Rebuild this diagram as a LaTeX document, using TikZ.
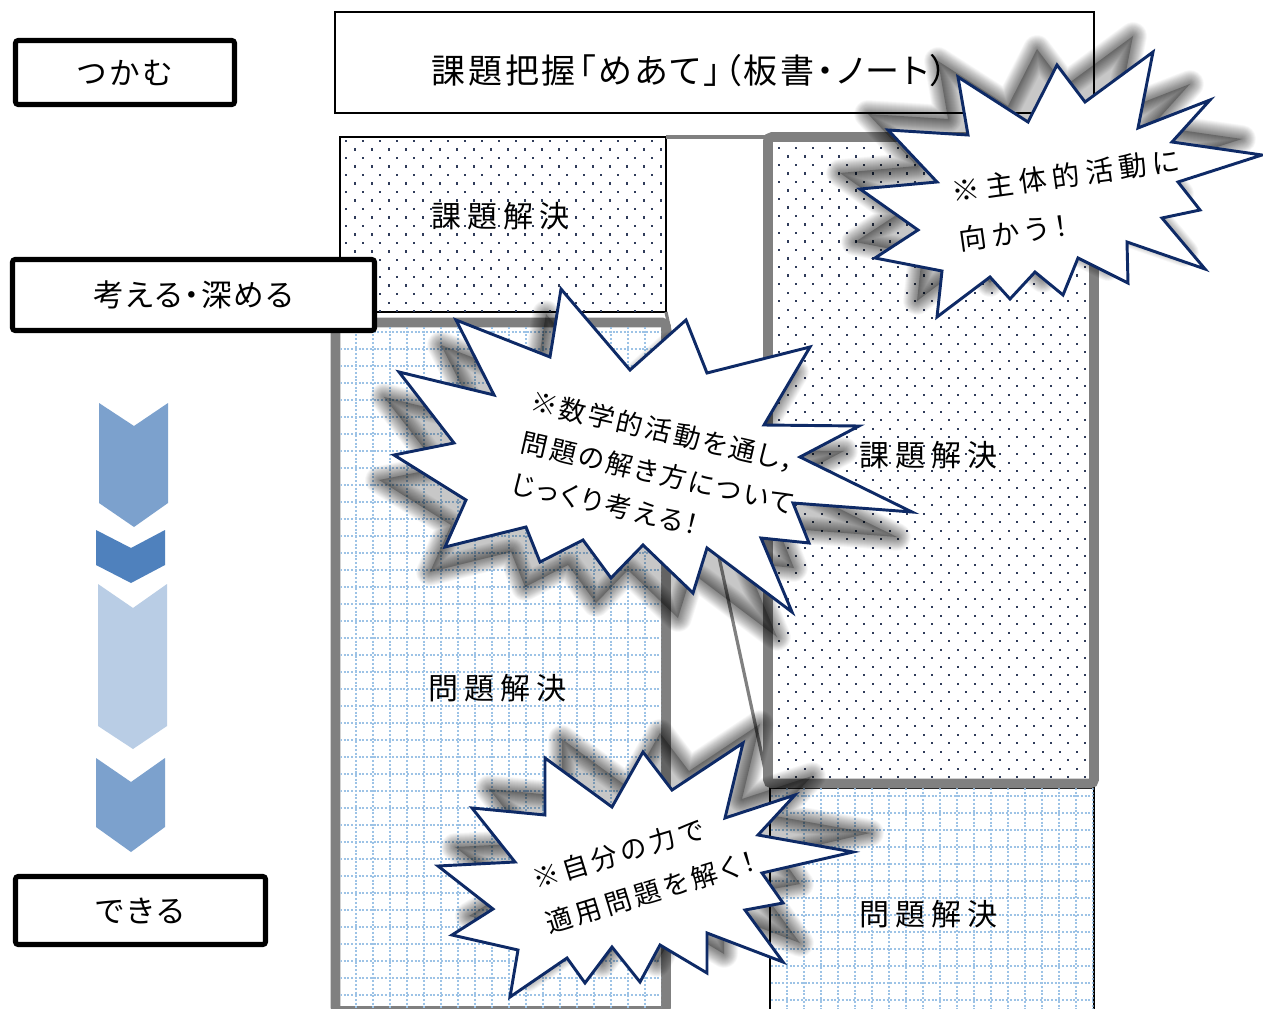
\documentclass[tikz,border=0pt]{standalone}
\usepackage{fontspec}
\newfontfamily\jp{Noto Sans CJK JP}
\newfontfamily\jpp{Noto Sans CJK JP}[RawFeature=+palt]
\definecolor{grayb}{RGB}{128,128,128}
\definecolor{starc}{RGB}{14,42,102}
\definecolor{dotc}{RGB}{48,60,90}
\definecolor{gridc}{RGB}{157,195,230}
\definecolor{chA}{RGB}{124,161,205}
\definecolor{chB}{RGB}{79,129,189}
\definecolor{chC}{RGB}{185,205,229}
\def\pxu{0.75pt}
\tikzset{
  x=0.75pt, y=-0.75pt,
  thinbox/.style={draw=black, line width=0.9pt, fill=white, inner sep=0pt, outer sep=0pt},
  graybox/.style={draw=grayb, line width=7.3pt, fill=white, inner sep=0pt, outer sep=0pt, rounded corners=3pt},
  stagebox/.style={draw=black, line width=3.8pt, fill=white, rounded corners=2pt, inner sep=0pt, outer sep=0pt},
  boxtext/.style={inner sep=0pt, font=\jp\fontsize{22.5}{27}\selectfont\addfontfeature{LetterSpace=20}},
  startext/.style={inner sep=0pt, align=left},
  starline/.style={draw=starc, line width=2.2pt, fill=white},
  conn/.style={draw=grayb, line width=2.4pt},
  gline/.style={draw=gridc, line width=1.1pt, dash pattern=on 1.5pt off 1.3pt},
}
\def\stA{(958,77) -- (968,135) -- (888,130) -- (937,182) -- (860,189) -- (918,230) -- (875,258) -- (942,271) -- (937,317) -- (990,277) -- (1010,299) -- (1035,272) -- (1063,295) -- (1078,258) -- (1128,283) -- (1127,242) -- (1205,269) -- (1162,218) -- (1200,210) -- (1178,182) -- (1262,155) -- (1172,142) -- (1210,100) -- (1138,128) -- (1153,52) -- (1085,102) -- (1057,65) -- (1028,122) -- cycle}
\def\stB{(561,289) -- (630,370) -- (686,320) -- (707,373) -- (810,347) -- (764,425) -- (859,426) -- (800,457) -- (912,512) -- (793,503) -- (809,543) -- (761,538) -- (792,612) -- (707,548) -- (693,593) -- (643,545) -- (611,578) -- (583,540) -- (540,562) -- (526,527) -- (445,547) -- (466,500) -- (394,455) -- (454,443) -- (399,372) -- (494,395) -- (456,320) -- (550,357) -- cycle}
\def\stC{(643,752) -- (672,790) -- (743,743) -- (725,818) -- (795,795) -- (758,835) -- (853,852) -- (762,873) -- (783,903) -- (745,910) -- (783,962) -- (707,933) -- (707,973) -- (660,945) -- (640,982) -- (612,947) -- (585,983) -- (567,958) -- (510,997) -- (518,950) -- (452,935) -- (493,909) -- (438,866) -- (515,862) -- (472,808) -- (545,815) -- (545,758) -- (612,807) -- cycle}
\newcommand\shadowof[3]{%
  \begin{scope}[shift={(#1,#2)}]
    \fill[black,opacity=0.22] #3;
    \foreach \w in {1,2,...,28}{\draw[black,opacity=0.018,line width=\w*0.75pt,line join=round] #3;}
  \end{scope}}
\begin{document}
\begin{tikzpicture}
\useasboundingbox (0,0) rectangle (1263,1009);
\fill[white] (0,0) rectangle (1263,1009);

% chevrons
\fill[chA] (99,403) -- (134,426) -- (168,403) -- (168,503) -- (134,527) -- (99,503) -- cycle;
\fill[chB] (96,530) -- (131,548) -- (165,530) -- (165,565) -- (131,583) -- (96,565) -- cycle;
\fill[chC] (98,584) -- (133,608) -- (167,584) -- (167,726) -- (133,749) -- (98,726) -- cycle;
\fill[chA] (96,758) -- (131,782) -- (165,758) -- (165,827) -- (131,852) -- (96,827) -- cycle;

% top goal box
\node[thinbox, minimum width=759*\pxu, minimum height=101*\pxu] (goal) at (714.5,62.5) {};
\node[inner sep=0pt, font=\jpp\fontsize{25.5}{30}\selectfont\addfontfeature{LetterSpace=8}] (goalt) at (690,71) {課題把握「めあて」（板書・ノート）};

% top-left dotted box
\node[thinbox, minimum width=326*\pxu, minimum height=175*\pxu] (kdA) at (503,224.5) {};
\begin{scope}
  \clip (340.5,137.5) rectangle (665.5,311.5);
  \foreach \j in {0,...,21}{
    \foreach \i in {0,...,19}{
      \fill[dotc] ({345+8.5*mod(\j,2)+17*\i},{140+8.5*\j}) rectangle ++(2.4,2.4);
    }
  }
\end{scope}
\node[boxtext] (kdAt) at (500,216) {課題解決};

% left big grid box
\node[graybox, minimum width=330.5*\pxu, minimum height=688.5*\pxu] (mdA) at (500.75,666.75) {};
\begin{scope}
  \clip (340.5,327.5) rectangle (661,1009);
  \foreach \k in {0,...,19} \draw[gline] (339+17*\k,327) -- (339+17*\k,1009);
  \foreach \k in {0,...,41} \draw[gline] (340,315+17*\k) -- (662,315+17*\k);
\end{scope}
\node[boxtext] (mdAt) at (497,688) {問題解決};

% bottom-right grid box
\node[thinbox, minimum width=324*\pxu, minimum height=227*\pxu] (mdB) at (932,901.5) {};
\begin{scope}
  \clip (770.5,788.5) rectangle (1093.5,1009);
  \foreach \k in {1,...,19} \draw[gline] (770+17*\k,788) -- (770+17*\k,1009);
  \foreach \k in {0,...,13} \draw[gline] (771,796+17*\k) -- (1093,796+17*\k);
\end{scope}
\node[boxtext] (mdBt) at (928,914) {問題解決};

% right big dotted box
\node[graybox, minimum width=326*\pxu, minimum height=646.5*\pxu] (kdB) at (931,460.25) {};
\begin{scope}
  \clip (772.75,141.75) rectangle (1089.25,778.75);
  \foreach \j in {0,...,75}{
    \foreach \i in {0,...,19}{
      \fill[dotc] ({778+8.5*mod(\j,2)+17*\i},{147+8.5*\j}) rectangle ++(2.4,2.4);
    }
  }
\end{scope}
\node[boxtext] (kdBt) at (928,455) {課題解決};

% zoom connectors
\draw[conn] (kdA.north east) -- (kdB.north west);
\draw[conn] (kdA.south east) -- (kdB.south west);

% stage labels
\node[stagebox, minimum width=219*\pxu, minimum height=64*\pxu, font=\jp\fontsize{23}{27}\selectfont\addfontfeature{LetterSpace=8}] (l1) at (125,72.5) {つかむ};
\node[stagebox, minimum width=362*\pxu, minimum height=71*\pxu, font=\jpp\fontsize{23}{27}\selectfont\addfontfeature{LetterSpace=6}] (l2) at (193.5,295) {考える・深める};
\node[stagebox, minimum width=250*\pxu, minimum height=68*\pxu, font=\jp\fontsize{23}{27}\selectfont] (l3) at (140.5,910.5) {できる};

% star 1
\shadowof{-20}{-16}{\stA}
\draw[starline] \stA;
\node[startext, rotate=8, font=\jpp\fontsize{21}{36.75}\selectfont\addfontfeature{LetterSpace=20}] (s1t) at (1069,200) {※主体的活動に\\向かう！};

% star 2
\shadowof{-15}{25}{\stB}
\draw[starline] \stB;
\node[startext, rotate=-13, font=\jpp\fontsize{20}{31.5}\selectfont\addfontfeature{LetterSpace=10}] (s2t) at (658,473) {※数学的活動を通し，\\問題の解き方について\\じっくり考える！};

% star 3
\shadowof{17}{-19}{\stC}
\draw[starline] \stC;
\node[startext, rotate=17, font=\jpp\fontsize{20}{34.5}\selectfont\addfontfeature{LetterSpace=15}] (s3t) at (644,870) {※自分の力で\\適用問題を解く！};
\end{tikzpicture}
\end{document}
